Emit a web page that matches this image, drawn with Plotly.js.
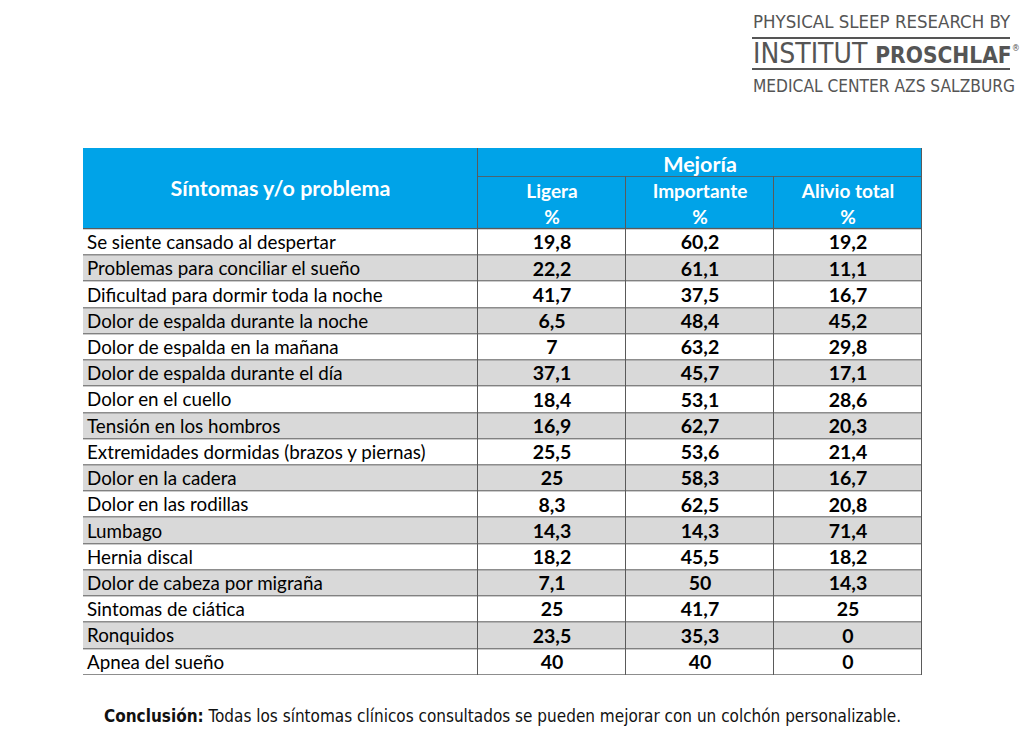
<!DOCTYPE html>
<html>
<head>
<meta charset="utf-8">
<script src="https://cdn.plot.ly/plotly-3.0.1.min.js"></script>
<style>
  body { margin: 0; background: #fff; }
  #chart { width: 1024px; height: 736px; }
</style>
</head>
<body>
<div id="chart"></div>
<script>
// Síntomas y mejoría (%)
var symptoms = [
  "Se siente cansado al despertar",
  "Problemas para conciliar el sueño",
  "Dificultad para dormir toda la noche",
  "Dolor de espalda durante la noche",
  "Dolor de espalda en la mañana",
  "Dolor de espalda durante el día",
  "Dolor en el cuello",
  "Tensión en los hombros",
  "Extremidades dormidas (brazos y piernas)",
  "Dolor en la cadera",
  "Dolor en las rodillas",
  "Lumbago",
  "Hernia discal",
  "Dolor de cabeza por migraña",
  "Sintomas de ciática",
  "Ronquidos",
  "Apnea del sueño"
];
var ligera = [19.8, 22.2, 41.7, 6.5, 7, 37.1, 18.4, 16.9, 25.5, 25, 8.3, 14.3, 18.2, 7.1, 25, 23.5, 40];
var importante = [60.2, 61.1, 37.5, 48.4, 63.2, 45.7, 53.1, 62.7, 53.6, 58.3, 62.5, 14.3, 45.5, 50, 41.7, 35.3, 40];
var alivio = [19.2, 11.1, 16.7, 45.2, 29.8, 17.1, 28.6, 20.3, 21.4, 16.7, 20.8, 71.4, 18.2, 14.3, 25, 0, 0];

var firstHeader = "Síntomas y/o problema";
var groupLabel = "Mejoría";
var subHeaders = ["Ligera", "Importante", "Alivio total"];
var unitLabel = "%";

// column widths (px) and header rows (in row units)
var colWidths = [395, 148, 148, 148];
var headerTop = -3.1, headerMid = -2.0;
var textShift = 0.08; // nudge text down to the optical middle

var colEdges = [0];
colWidths.forEach(function (w) { colEdges.push(colEdges[colEdges.length - 1] + w); });
var colCenters = colWidths.map(function (w, i) { return colEdges[i] + w / 2; });
var rowEdges = symptoms.map(function (s, i) { return i; }).concat([symptoms.length]);
var rowCenters = symptoms.map(function (s, i) { return i + 0.5 + textShift; });

function fmt(v) { return String(v).replace(".", ","); }

var blue = "#00a3e8";
var border = "#5a5a5a";
var font = "Lato, 'Open Sans', sans-serif";

var bodyZ = symptoms.map(function (s, i) { return colWidths.map(function () { return i % 2; }); });

var base = { type: "heatmap", showscale: false, hoverinfo: "skip", xgap: 1, ygap: 1, zmin: 0, zmax: 2,
  colorscale: [[0, "#ffffff"], [0.5, "#d9d9d9"], [1, blue]] };

var bodyCells = Object.assign({}, base, { x: colEdges, y: rowEdges, z: bodyZ });
var headFirst = Object.assign({}, base, { x: [colEdges[0], colEdges[1]], y: [headerTop, 0], z: [[2]] });
var headGroup = Object.assign({}, base, { x: [colEdges[1], colEdges[4]], y: [headerTop, headerMid], z: [[2]] });
var headSub = Object.assign({}, base, { x: colEdges.slice(1), y: [headerMid, 0], z: [[2, 2, 2]] });

function textTrace(x, y, text, pos, f) {
  return { type: "scatter", mode: "text", x: x, y: y, text: text, textposition: pos,
    textfont: f, hoverinfo: "skip", cliponaxis: false, showlegend: false };
}

var bodyFont = { family: font, size: 18.8, color: "#000000" };
var numFont = { family: font, size: 19.5, color: "#000000", weight: "bold" };
var headFont = { family: font, size: 21.5, color: "#ffffff", weight: "bold" };
var subFont = { family: font, size: 19, color: "#ffffff", weight: "bold" };

var traces = [
  bodyCells, headFirst, headGroup, headSub,
  textTrace(symptoms.map(function () { return 4; }), rowCenters, symptoms, "middle right", bodyFont),
  textTrace(symptoms.map(function () { return colCenters[1]; }), rowCenters, ligera.map(fmt), "middle center", numFont),
  textTrace(symptoms.map(function () { return colCenters[2]; }), rowCenters, importante.map(fmt), "middle center", numFont),
  textTrace(symptoms.map(function () { return colCenters[3]; }), rowCenters, alivio.map(fmt), "middle center", numFont),
  textTrace([colCenters[0]], [headerTop / 2 + textShift], [firstHeader], "middle center", headFont),
  textTrace([(colEdges[1] + colEdges[4]) / 2], [(headerTop + headerMid) / 2 + textShift + 0.08], [groupLabel], "middle center", headFont),
  textTrace(colCenters.slice(1), [-1.38, -1.38, -1.38], subHeaders, "middle center", subFont),
  textTrace(colCenters.slice(1), [-0.39, -0.39, -0.39], [unitLabel, unitLabel, unitLabel], "middle center", subFont)
];

var logoFont = "'DejaVu Sans Condensed', 'Liberation Sans', sans-serif";
var grey = "#555555";

var layout = {
  width: 1024,
  height: 736,
  margin: { l: 0, r: 0, t: 0, b: 0 },
  paper_bgcolor: "#ffffff",
  plot_bgcolor: border,
  showlegend: false,
  xaxis: { domain: [83 / 1024, 922 / 1024], range: [colEdges[0], colEdges[4]], showgrid: false, zeroline: false,
    showticklabels: false, ticks: "", showline: false, fixedrange: true },
  yaxis: { domain: [1 - 675 / 736, 1 - 148 / 736], range: [symptoms.length, headerTop], showgrid: false, zeroline: false,
    showticklabels: false, ticks: "", showline: false, fixedrange: true },
  shapes: [
    { type: "line", xref: "paper", yref: "paper", x0: 752 / 1024, x1: 1010 / 1024, y0: 1 - 38 / 736, y1: 1 - 38 / 736, line: { color: grey, width: 2 } },
    { type: "line", xref: "paper", yref: "paper", x0: 752 / 1024, x1: 1010 / 1024, y0: 1 - 69 / 736, y1: 1 - 69 / 736, line: { color: grey, width: 2 } }
  ],
  annotations: [
    { xref: "paper", yref: "paper", x: 751 / 1024, y: 1 - 22 / 736, xanchor: "left", yanchor: "middle", showarrow: false,
      text: "PHYSICAL SLEEP RESEARCH BY", font: { family: logoFont, size: 18.5, color: grey } },
    { xref: "paper", yref: "paper", x: 751 / 1024, y: 1 - 53 / 736, xanchor: "left", yanchor: "middle", showarrow: false,
      text: "INSTITUT <b><span style=\"font-size:22.5px\">PROSCHLAF</span></b><sup><span style=\"font-size:9px\">®</span></sup>",
      font: { family: logoFont, size: 28, color: grey } },
    { xref: "paper", yref: "paper", x: 751 / 1024, y: 1 - 86 / 736, xanchor: "left", yanchor: "middle", showarrow: false,
      text: "MEDICAL CENTER AZS SALZBURG", font: { family: logoFont, size: 17.2, color: grey } },
    { xref: "paper", yref: "paper", x: 502 / 1024, y: 1 - 716 / 736, xanchor: "center", yanchor: "middle", showarrow: false,
      text: "<b>Conclusión:</b> Todas los síntomas clínicos consultados se pueden mejorar con un colchón personalizable.",
      font: { family: logoFont, size: 17, color: "#111111" } }
  ]
};

Plotly.newPlot("chart", traces, layout, { displayModeBar: false, staticPlot: true });
</script>
</body>
</html>
